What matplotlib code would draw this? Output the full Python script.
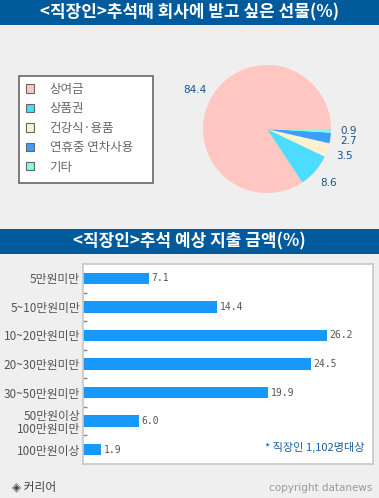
import matplotlib.pyplot as plt
from matplotlib.patches import Rectangle, Patch

plt.rcParams['font.family'] = ['Noto Sans CJK KR', 'DejaVu Sans']

# 추석때 회사에 받고 싶은 선물
gift_labels = ['상여금', '상품권', '건강식·용품', '연휴중 연차사용', '기타']
gift_values = [84.4, 8.6, 3.5, 2.7, 0.9]
gift_colors = ['#ffc6c2', '#4ddcff', '#fff0cf', '#3d9eff', '#80ffe0']

# 추석 예상 지출 금액
spend_labels = ['5만원미만', '5~10만원미만', '10~20만원미만', '20~30만원미만',
                '30~50만원미만', '50만원이상\n100만원미만', '100만원이상']
spend_values = [7.1, 14.4, 26.2, 24.5, 19.9, 6.0, 1.9]

W, H = 379, 498
BG = '#efefef'
BANNER = '#005a9c'

fig = plt.figure(figsize=(W / 100, H / 100), dpi=100, facecolor=BG)

def px(left, top, width, height):
    # pixel box -> figure fraction
    return [left / W, (H - top - height) / H, width / W, height / H]

# banners
for top, text in [(0, '<직장인>추석때 회사에 받고 싶은 선물(%)'),
                  (229, '<직장인>추석 예상 지출 금액(%)')]:
    fig.add_artist(Rectangle((0, (H - top - 25) / H), 1, 25 / H,
                             transform=fig.transFigure, color=BANNER, lw=0))
    fig.text(0.5, (H - top - 12.5) / H, text, color='white', fontsize=12.2,
             fontweight='bold', ha='center', va='center')

# pie
ax1 = fig.add_axes(px(203, 65, 128, 128))
wedges, texts = ax1.pie(gift_values, colors=gift_colors, startangle=0,
                        labels=[f'{v}' for v in gift_values], labeldistance=1.28,
                        textprops=dict(color='#1d4f8f', fontsize=7.5,
                                       family='DejaVu Sans'))
for t in texts:
    t.set_ha('center')
    t.set_va('center')
ax1.set_xlim(-1, 1)
ax1.set_ylim(-1, 1)

# legend box
fig.add_artist(Rectangle((19 / W, (H - 183) / H), 134 / W, 107 / H,
                         transform=fig.transFigure, facecolor='white',
                         edgecolor='#666666', lw=1.2))
handles = [Patch(facecolor=c, edgecolor='#666666', lw=0.8) for c in gift_colors]
leg = fig.legend(handles, gift_labels, loc='upper left',
                 bbox_to_anchor=(26 / W, (H - 83) / H), fontsize=9,
                 frameon=False, handlelength=0.65, handleheight=0.65,
                 handletextpad=1.25, labelspacing=0.51, borderpad=0,
                 borderaxespad=0)
for t in leg.get_texts():
    t.set_color('#666666')

# bars
ax2 = fig.add_axes(px(83, 264, 290, 200))
pos = list(range(len(spend_values)))
ax2.barh(pos, spend_values, height=0.4, color='#1799fc')
ax2.set_xlim(0, 31.2)
ax2.set_ylim(6.5, -0.5)
ax2.set_xticks([])
ax2.set_yticks(pos)
ax2.set_yticklabels(spend_labels, fontsize=8.5, color='#555555', linespacing=1.0)
ax2.tick_params(axis='y', length=0, pad=2)
ax2.set_yticks([p + 0.5 for p in pos[:-1]], minor=True)
ax2.tick_params(axis='y', which='minor', direction='in', length=3,
                color='#888888', width=1)
for s in ax2.spines.values():
    s.set_color('#c8c8c8')
    s.set_linewidth(1.2)
for p, v in zip(pos, spend_values):
    ax2.text(v + 0.3, p, f'{v:.1f}', va='center', ha='left', fontsize=7,
             color='#555555', family='DejaVu Sans Mono')
ax2.text(0.97, 0.085, '* 직장인 1,102명대상', transform=ax2.transAxes,
         ha='right', va='center', fontsize=8, color='#1a5ea0')

# footer
fig.text(12 / W, (H - 487) / H, '◈ 커리어', fontsize=8.5, color='#444444',
         ha='left', va='center')
fig.text(372 / W, (H - 488) / H, 'copyright datanews', fontsize=7.5,
         color='#999999', ha='right', va='center', family='DejaVu Sans')

fig.savefig('out.png', dpi=100, facecolor=BG)
